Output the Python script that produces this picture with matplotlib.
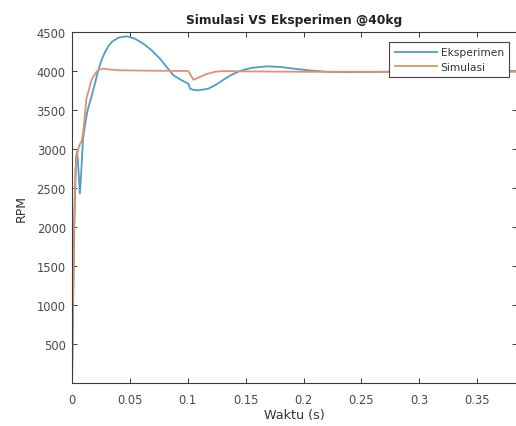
import matplotlib
matplotlib.use("Agg")
import matplotlib.pyplot as plt

plt.rcParams['font.family'] = ['DejaVu Sans']

# Data
t_eksp = [0, 0.002, 0.0035, 0.0045, 0.0055, 0.0068, 0.0078, 0.0095, 0.0115, 0.0135,
          0.017, 0.020, 0.0227, 0.0255, 0.0285, 0.0315, 0.0343, 0.040, 0.0472, 0.0544,
          0.0616, 0.0688, 0.076, 0.0818, 0.0875, 0.0947, 0.1005, 0.102, 0.105, 0.109,
          0.1177, 0.1235, 0.130, 0.137, 0.145, 0.155, 0.168, 0.180, 0.194,
          0.207, 0.220, 0.240, 0.270, 0.300, 0.330, 0.360, 0.390]
rpm_eksp = [0, 2000, 2900, 2970, 2750, 2430, 2650, 3130, 3330, 3500,
            3680, 3850, 4010, 4140, 4243, 4320, 4372, 4427, 4445, 4414,
            4350, 4265, 4158, 4051, 3945, 3881, 3837, 3773, 3758, 3752,
            3773, 3817, 3880, 3945, 4000, 4040, 4060, 4052, 4025,
            4005, 3990, 3985, 3990, 3995, 4000, 4000, 4000]

t_sim = [0, 0.001, 0.002, 0.003, 0.0045, 0.0065, 0.0085, 0.0095, 0.0125, 0.017,
         0.0205, 0.0227, 0.027, 0.032, 0.040, 0.060, 0.080, 0.100, 0.1015,
         0.1048, 0.1105, 0.115, 0.1235, 0.130, 0.150, 0.200, 0.250,
         0.300, 0.350, 0.390]
rpm_sim = [0, 1200, 2200, 2750, 2950, 3050, 3110, 3190, 3650, 3890,
           3975, 4015, 4030, 4020, 4010, 4005, 4002, 4000, 3975,
           3889, 3923, 3955, 3990, 3998, 3995, 3990, 3990,
           3990, 3990, 3990]

xticks = [0, 0.05, 0.1, 0.15, 0.2, 0.25, 0.3, 0.35]
xtick_labels = ['0', '0.05', '0.1', '0.15', '0.2', '0.25', '0.3', '0.35']
yticks = [500, 1000, 1500, 2000, 2500, 3000, 3500, 4000, 4500]

W, H = 516, 427
fig = plt.figure(figsize=(W / 100, H / 100), dpi=100)
ax = fig.add_axes([72 / W, (H - 384) / H, (517 - 72) / W, (384 - 33) / H])

ax.plot(t_eksp, rpm_eksp, color='#4f9cc8', lw=1.3, label='Eksperimen')
ax.plot(t_sim, rpm_sim, color='#e0926a', lw=1.3, label='Simulasi')

ax.set_xlim(0, 0.3843)
ax.set_ylim(0, 4500)
ax.set_xticks(xticks)
ax.set_xticklabels(xtick_labels)
ax.set_yticks(yticks)

tc = '#3a3a3a'
for s in ax.spines.values():
    s.set_color(tc)
    s.set_linewidth(0.8)
ax.tick_params(direction='in', length=3.5, width=0.7, colors=tc, labelsize=8.3,
               top=True, right=True)
ax.tick_params(axis='x', pad=7.5)
ax.tick_params(axis='y', pad=4.5)
for lab in ax.get_xticklabels() + ax.get_yticklabels():
    lab.set_color('#4a4a4a')

ax.set_xlabel('Waktu (s)', fontsize=9.2, color='#333333', labelpad=1)
ax.set_ylabel('RPM', fontsize=9.0, color='#333333', labelpad=6)
ax.set_title('Simulasi VS Eksperimen @40kg', fontsize=8.8, fontweight='bold',
             color='#222222', pad=6.5)

leg = ax.legend(loc='upper right', fontsize=7.7, handlelength=4.0, handletextpad=0.3,
                borderpad=0.5, labelspacing=0.4, borderaxespad=0.0,
                bbox_to_anchor=((509 - 72) / (517 - 72), (384 - 43) / (384 - 33)),
                fancybox=False, framealpha=1)
leg.get_frame().set_edgecolor('#444444')
leg.get_frame().set_linewidth(0.8)
for txt in leg.get_texts():
    txt.set_color('#333333')

fig.savefig('out.png', dpi=100)
